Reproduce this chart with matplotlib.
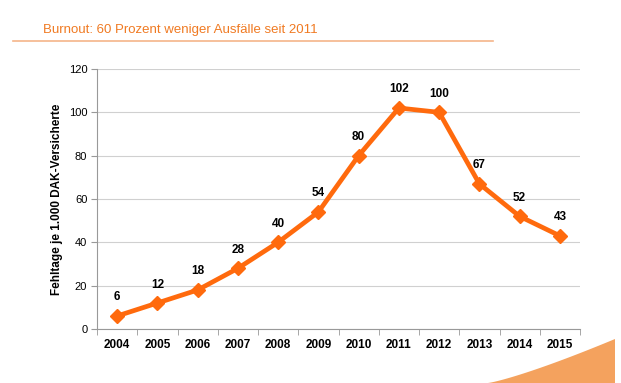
import numpy as np
import matplotlib.pyplot as plt
from matplotlib.patches import Polygon

plt.rcParams['font.family'] = ['Liberation Sans', 'DejaVu Sans']

# data
years = ['2004', '2005', '2006', '2007', '2008', '2009',
         '2010', '2011', '2012', '2013', '2014', '2015']
fehltage = [6, 12, 18, 28, 40, 54, 80, 102, 100, 67, 52, 43]

orange = '#FF6A0D'

fig = plt.figure(figsize=(6.21, 3.83), dpi=100)

# title and underline
fig.text(43 / 621, 1 - 30 / 383, 'Burnout: 60 Prozent weniger Ausfälle seit 2011',
         color='#F07A22', fontsize=9.5, va='center', ha='left')
fig.add_artist(plt.Line2D([13 / 621, 493 / 621], [1 - 41 / 383, 1 - 41 / 383],
                          color='#F5B58A', lw=1.2))

# decorative swoosh bottom right
t = np.linspace(0, 1, 40)
xs = (488 + 127 * t) / 621
ys = 1 - (383 - 44 * t ** 1.2) / 383
pts = list(zip(xs, ys)) + [(615 / 621, 0), (488 / 621, 0)]
fig.add_artist(Polygon(pts, closed=True, transform=fig.transFigure,
                       facecolor='#F4A25E', edgecolor='none'))

ax = fig.add_axes([97 / 621, 1 - 329 / 383, 483 / 621, 260 / 383])
x = np.arange(len(years))
ax.plot(x, fehltage, color=orange, lw=3.4, marker='D', markersize=7.5,
        markeredgecolor=orange)
for xi, v in zip(x, fehltage):
    ax.annotate(str(v), (xi, v), xytext=(0, 9), textcoords='offset points',
                ha='center', va='bottom', fontsize=8.5, fontweight='bold')

ax.set_xlim(-0.5, len(years) - 0.5)
ax.set_ylim(0, 120)
ax.set_yticks(range(0, 121, 20))
ax.yaxis.grid(True, color='#D0D0D0', lw=0.8)
ax.set_axisbelow(True)

ax.set_xticks(x)
ax.set_xticklabels(years, fontsize=8.5, fontweight='bold')
ax.set_xticks(np.arange(-0.5, len(years), 1), minor=True)
ax.tick_params(axis='x', which='major', length=0, pad=7)
ax.tick_params(axis='x', which='minor', length=4, color='#999999')
ax.tick_params(axis='y', length=4, color='#999999', labelsize=8, pad=3)

for side in ['top', 'right']:
    ax.spines[side].set_visible(False)
for side in ['left', 'bottom']:
    ax.spines[side].set_color('#999999')
    ax.spines[side].set_linewidth(0.8)

ax.set_ylabel('Fehltage je 1.000 DAK-Versicherte', fontsize=8.5,
              fontweight='bold', labelpad=4)

fig.savefig('out.png', dpi=100)
